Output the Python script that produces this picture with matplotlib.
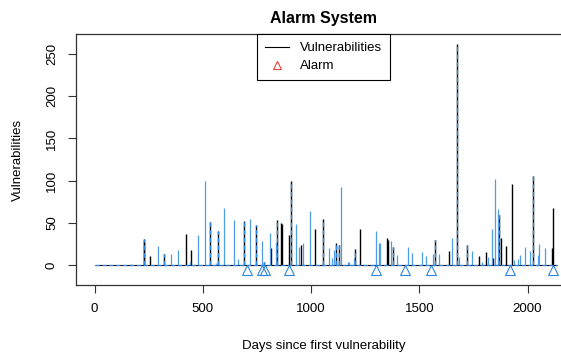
import numpy as np
import matplotlib
matplotlib.use("Agg")
import matplotlib.pyplot as plt
from matplotlib.lines import Line2D

plt.rcParams['font.family'] = ['Liberation Sans', 'DejaVu Sans']

N_DAYS = 2136

# vulnerabilities reported per day (black)
vuln_days = [226, 228, 258, 320, 423, 445, 532, 569, 692, 746, 782, 816, 843, 861, 864,
             899, 906, 954, 1017, 1053, 1116, 1131, 1203, 1227, 1350, 1354, 1377, 1573,
             1636, 1673, 1719, 1774, 1808, 1842, 1868, 1876, 1901, 1927, 2027, 2111, 2117]
vuln_counts = [31, 28, 11, 13, 37, 18, 51, 40, 52, 47, 4, 20, 53, 50, 49,
               36, 100, 24, 43, 54, 26, 24, 19, 43, 32, 30, 21, 30,
               17, 262, 24, 11, 15, 8, 59, 32, 22, 96, 105, 20, 68]

# detector signal (blue)
signal_days = [168, 226, 292, 320, 354, 385, 439, 479, 508, 532, 559, 569, 599, 642, 662,
               692, 717, 746, 774, 782, 811, 836, 843, 906, 929, 942, 962, 997, 1053,
               1082, 1096, 1108, 1116, 1131, 1136, 1171, 1177, 1197, 1203, 1300, 1314,
               1320, 1370, 1377, 1396, 1447, 1465, 1513, 1531, 1562, 1573, 1593, 1651,
               1673, 1685, 1719, 1742, 1790, 1816, 1834, 1851, 1864, 1868, 1936, 1954,
               1965, 1990, 2010, 2027, 2047, 2051, 2082]
signal_counts = [1, 31, 22, 13, 13, 18, 4, 35, 100, 51, 2, 40, 67, 53, 7,
                 52, 54, 47, 28, 4, 38, 26, 53, 100, 49, 21, 26, 64, 54,
                 20, 8, 18, 26, 24, 92, 4, 4, 8, 19, 40, 26,
                 26, 28, 21, 12, 21, 14, 16, 11, 13, 30, 13, 32,
                 262, 9, 24, 17, 3, 10, 43, 102, 66, 59, 6, 7,
                 12, 21, 17, 105, 12, 25, 20]

alarm_days = [705, 774, 789, 896, 1302, 1436, 1556, 1921, 2119]
ALARM_LEVEL = -5.5

sig_d = np.array(signal_days)
sig_v = np.array(signal_counts)
shared = np.isin(sig_d, vuln_days)

BLUE = "#2b86dc"
LIGHT_BLUE = "#4f9de6"
DASH = (0, (3.5, 2))

fig = plt.figure(figsize=(5.61, 3.56), dpi=100)
ax = fig.add_axes([0.1355, 0.1994, 0.882, 0.7051])

# black series: baseline + one stroke per day
ax.hlines(0, 0, N_DAYS - 1, color="black", lw=0.8)
ax.vlines(vuln_days, 0, vuln_counts, color="black", lw=1.0)
# signal-only days: plain blue spikes
ax.vlines(sig_d[~shared], 0, sig_v[~shared], color=LIGHT_BLUE, lw=0.9)
# days in both series: dashed blue over the black
ax.vlines(sig_d[shared], 0, sig_v[shared], color=BLUE, lw=1.0, linestyles=DASH)
ax.hlines(0, 0, N_DAYS - 1, color=BLUE, lw=0.9, linestyles=DASH)
ax.plot(alarm_days, np.full(len(alarm_days), ALARM_LEVEL), linestyle="none",
        marker="^", markersize=6.5, markerfacecolor="none", markeredgecolor=BLUE,
        markeredgewidth=0.8)

ax.set_xlim(-86, 2200)
ax.set_ylim(-23.7, 273.7)
ax.set_xticks([0, 500, 1000, 1500, 2000])
ax.set_yticks([0, 50, 100, 150, 200, 250])
ax.set_yticklabels(["0", "50", "100", "150", "200", "250"], rotation=90, va="center")
ax.tick_params(direction="out", length=6, width=0.8, colors="#333333", labelsize=9.5,
               labelcolor="black", pad=7)
for s in ax.spines.values():
    s.set_color("#333333")
    s.set_linewidth(0.9)

ax.set_xlabel("Days since first vulnerability", fontsize=9.5, labelpad=18)
ax.set_ylabel("Vulnerabilities", fontsize=9.5, labelpad=16)
ax.set_title("Alarm System", fontsize=11.5, fontweight="bold", pad=8)

handles = [Line2D([], [], color="black", lw=0.8),
           Line2D([], [], linestyle="none", marker="^", markersize=6,
                  markerfacecolor="none", markeredgecolor="#e8413c", markeredgewidth=0.8)]
leg = ax.legend(handles, ["Vulnerabilities", "Alarm"], loc="upper center",
                bbox_to_anchor=(0.5, 1.0), borderaxespad=0, fontsize=9.5,
                fancybox=False, edgecolor="black", framealpha=1,
                handlelength=1.8, handletextpad=0.8, labelspacing=0.45, borderpad=0.6)
leg.get_frame().set_linewidth(0.8)

fig.savefig("out.png", dpi=100)
